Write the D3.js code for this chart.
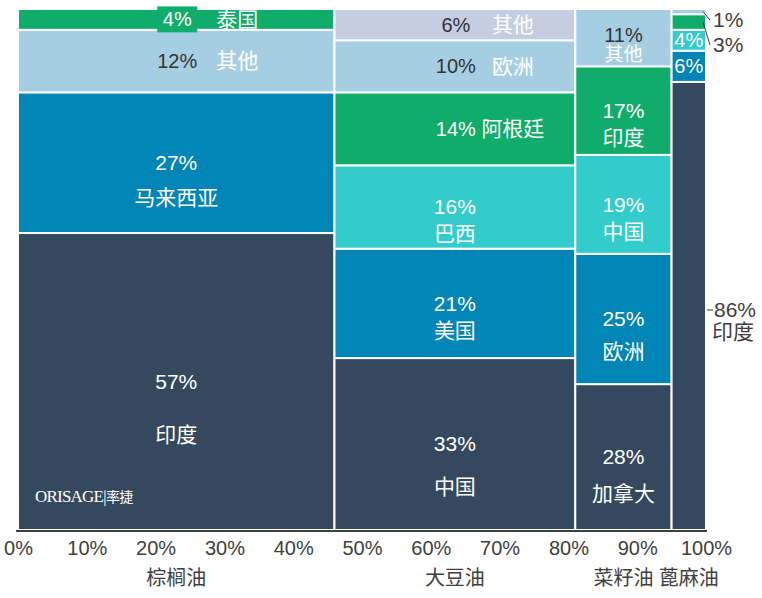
<!DOCTYPE html>
<html>
<head>
<meta charset="utf-8">
<script src="https://cdn.jsdelivr.net/npm/d3@7"></script>
<style>
  html, body { margin: 0; padding: 0; background: #fff; }
  svg { display: block; font-family: "Liberation Sans", "Noto Sans CJK SC", sans-serif; }
</style>
</head>
<body>
<div id="chart"></div>
<script>
// Column categories and their share of the total (x widths, %)
const categories = ["棕榈油", "大豆油", "菜籽油", "蓖麻油"];
const categoryShares = [46, 35, 14, 5];

// Segments per column, bottom to top
const segmentNames = [
    ["印度", "马来西亚", "其他", "泰国"],
    ["中国", "美国", "巴西", "阿根廷", "欧洲", "其他"],
    ["加拿大", "欧洲", "中国", "印度", "其他"],
    ["印度", "", "", "", ""]
];
const segmentValues = [
    [57, 27, 12, 4],
    [33, 21, 16, 14, 10, 6],
    [28, 25, 19, 17, 11],
    [86, 6, 4, 3, 1]
];

const tickValues = [0, 10, 20, 30, 40, 50, 60, 70, 80, 90, 100];

// Styling
const palette = {
    dark: "#34495e",
    blue: "#0085b7",
    teal: "#33cccc",
    green: "#10ac69",
    light: "#a6cee3",
    lavender: "#c5cee0"
};
const cellColorKeys = [
    ["dark", "blue", "light", "green"],
    ["dark", "blue", "teal", "green", "light", "lavender"],
    ["dark", "blue", "teal", "green", "light"],
    ["dark", "blue", "teal", "green", "light"]
];
const lightFills = new Set(["light", "lavender"]);

const width = 762, height = 598;
const svg = d3.select("#chart").append("svg")
    .attr("width", width)
    .attr("height", height);

const x = d3.scaleLinear().domain([0, 100]).range([18, 706]);
const y = d3.scaleLinear().domain([0, 100]).range([530, 9]);

// Build cells
const cells = [];
let colStart = 0;
categories.forEach((cat, ci) => {
    const colEnd = colStart + categoryShares[ci];
    let cum = 0;
    segmentValues[ci].forEach((v, si) => {
        cells.push({
            col: ci,
            name: segmentNames[ci][si],
            value: v,
            colorKey: cellColorKeys[ci][si],
            x0: x(colStart), x1: x(colEnd),
            y0: y(cum + v), y1: y(cum)
        });
        cum += v;
    });
    colStart = colEnd;
});

svg.append("g")
    .selectAll("rect")
    .data(cells)
    .join("rect")
    .attr("x", d => d.x0)
    .attr("y", d => d.y0)
    .attr("width", d => d.x1 - d.x0)
    .attr("height", d => d.y1 - d.y0)
    .attr("fill", d => palette[d.colorKey])
    .attr("stroke", "#fff")
    .attr("stroke-width", 2);

// Axis
const axis = svg.append("g")
    .attr("transform", `translate(0, ${y(0) + 1})`)
    .call(d3.axisBottom(x).tickValues(tickValues).tickFormat(d => d + "%").tickSize(0).tickPadding(10));
axis.select(".domain").attr("stroke", "#404040").attr("stroke-width", 2).attr("d", `M16,0H707`);
axis.selectAll("text")
    .attr("fill", "#404040")
    .style("font-size", "20px")
    .style("font-family", "Liberation Sans, Noto Sans CJK SC, sans-serif");

// Category labels under the axis
colStart = 0;
const catCenters = categoryShares.map(s => {
    const c = x(colStart + s / 2);
    colStart += s;
    return c;
});
svg.append("g")
    .selectAll("text")
    .data(categories)
    .join("text")
    .attr("x", (d, i) => catCenters[i])
    .attr("y", 578)
    .attr("dy", "0.35em")
    .attr("text-anchor", "middle")
    .attr("fill", "#404040")
    .style("font-size", "20px")
    .text(d => d);

// Cell labels
const labels = svg.append("g").style("font-size", "21px");
let outsideIndex = 0;
cells.slice().sort((a, b) => a.y0 - b.y0).forEach(d => {
    const w = d.x1 - d.x0, h = d.y1 - d.y0;
    const cx = (d.x0 + d.x1) / 2, cy = (d.y0 + d.y1) / 2;
    const pctColor = lightFills.has(d.colorKey) ? "#333" : "#fff";
    const pct = d.value + "%";

    if (w < 50) {
        if (h > 100) {
            // big narrow cell: label outside on the right with a short tick
            labels.append("line")
                .attr("x1", d.x1 + 1).attr("x2", d.x1 + 7)
                .attr("y1", cy + 4).attr("y2", cy + 4)
                .attr("stroke", "#404040");
            labels.append("text").attr("x", d.x1 + 8).attr("y", cy + 4).attr("dy", "0.35em")
                .attr("fill", "#404040").text(pct);
            labels.append("text").attr("x", d.x1 + 6).attr("y", cy + 26).attr("dy", "0.35em")
                .attr("fill", "#404040").text(d.name);
        } else if (h >= 18) {
            labels.append("text").attr("x", cx).attr("y", cy).attr("dy", "0.35em")
                .attr("text-anchor", "middle").attr("fill", pctColor)
                .style("font-size", "20px").text(pct);
        } else {
            const ly = y(100) + 11 + 25 * outsideIndex++;
            labels.append("line")
                .attr("x1", d.x1 - 3).attr("y1", cy)
                .attr("x2", d.x1 + 4).attr("y2", ly)
                .attr("stroke", "#404040");
            labels.append("text").attr("x", d.x1 + 7).attr("y", ly).attr("dy", "0.35em")
                .attr("fill", "#404040").text(pct);
        }
        return;
    }

    if (h < 75 && w > 120) {
        // side by side
        const px = cx + 1;
        if (h < 24) {
            labels.append("rect")
                .attr("x", px - 20).attr("y", cy - 13)
                .attr("width", 40).attr("height", 26)
                .attr("fill", palette[d.colorKey]);
        }
        labels.append("text").attr("x", px).attr("y", cy).attr("dy", "0.35em")
            .attr("text-anchor", "middle").attr("fill", pctColor)
            .style("font-size", "20px").text(pct);
        labels.append("text").attr("x", px + (w > 280 ? 60 : 57)).attr("y", cy).attr("dy", "0.35em")
            .attr("text-anchor", "middle").attr("fill", "#fff").text(d.name);
        return;
    }

    if (h < 75) {
        // small cell in a narrow column: tight stack
        labels.append("text").attr("x", cx).attr("y", cy - 3).attr("dy", "0.35em")
            .attr("text-anchor", "middle").attr("fill", pctColor)
            .style("font-size", "20px").text(pct);
        labels.append("text").attr("x", cx).attr("y", cy + 17).attr("dy", "0.35em")
            .attr("text-anchor", "middle").attr("fill", "#fff")
            .style("font-size", "19px").text(d.name);
        return;
    }

    const offset = Math.max(27, Math.min(53, h * 0.25));
    labels.append("text").attr("x", cx).attr("y", cy).attr("dy", "0.35em")
        .attr("text-anchor", "middle").attr("fill", pctColor).text(pct);
    labels.append("text").attr("x", cx).attr("y", cy + offset).attr("dy", "0.35em")
        .attr("text-anchor", "middle").attr("fill", "#fff").text(d.name);
});

// Logo
const logo = svg.append("text")
    .attr("x", 35).attr("y", 502)
    .attr("fill", "#fff")
    .style("font-family", "Liberation Serif, DejaVu Serif, serif")
    .style("font-size", "17px")
    .style("letter-spacing", "-0.8px");
logo.append("tspan").text("ORISAGE");
logo.append("tspan").style("font-size", "14px").style("font-family", "Noto Sans CJK SC").text("|率捷");
</script>
</body>
</html>
